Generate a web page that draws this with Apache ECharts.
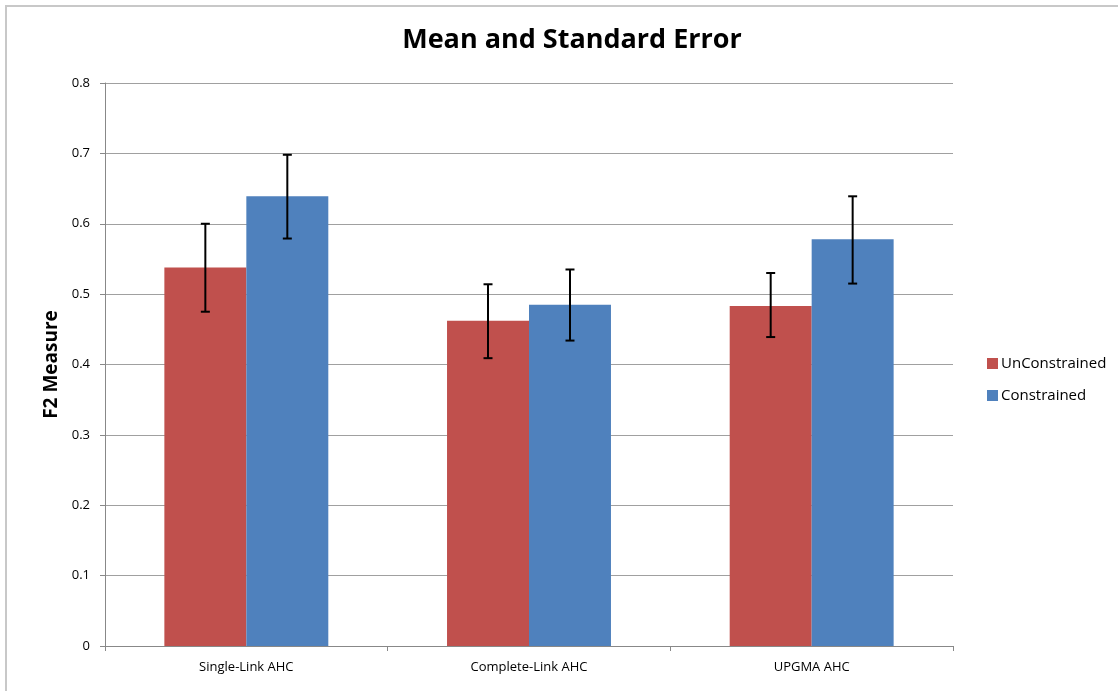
<!DOCTYPE html>
<html>
<head>
<meta charset="utf-8">
<script src="https://cdn.jsdelivr.net/npm/echarts@6/dist/echarts.min.js"></script>
<style>
html,body{margin:0;padding:0;background:#fff;}
#c{width:1118px;height:691px;}
</style>
</head>
<body>
<div id="c"></div>
<script>
const categories = ['Single-Link AHC', 'Complete-Link AHC', 'UPGMA AHC'];
const seriesNames = ['UnConstrained', 'Constrained'];
const unconstrainedMean = [0.538, 0.462, 0.483];
const unconstrainedLow  = [0.475, 0.409, 0.439];
const unconstrainedHigh = [0.600, 0.514, 0.530];
const constrainedMean = [0.639, 0.485, 0.578];
const constrainedLow  = [0.579, 0.434, 0.515];
const constrainedHigh = [0.698, 0.535, 0.639];
const yTicks = [0, 0.1, 0.2, 0.3, 0.4, 0.5, 0.6, 0.7, 0.8];

const colors = ['#C0504D', '#4F81BD'];
const chart = echarts.init(document.getElementById('c'), null, {renderer: 'canvas'});

const barWidthFrac = 0.29;

function errorSeries(idx, low, high) {
  return {
    type: 'custom',
    name: seriesNames[idx] + ' error',
    z: 10,
    silent: true,
    data: categories.map((c, i) => [i, low[i], high[i]]),
    encode: {x: 0, y: [1, 2]},
    renderItem: function (params, api) {
      const i = api.value(0);
      const lo = api.coord([i, api.value(1)]);
      const hi = api.coord([i, api.value(2)]);
      const bw = api.size([1, 0])[0];
      const offset = (idx === 0 ? -0.5 : 0.5) * bw * barWidthFrac;
      const x = lo[0] + offset;
      const cap = 4.5;
      const style = {stroke: '#000', lineWidth: 2};
      return {
        type: 'group',
        children: [
          {type: 'line', shape: {x1: x, y1: hi[1], x2: x, y2: lo[1]}, style: style},
          {type: 'line', shape: {x1: x - cap, y1: hi[1], x2: x + cap, y2: hi[1]}, style: style},
          {type: 'line', shape: {x1: x - cap, y1: lo[1], x2: x + cap, y2: lo[1]}, style: style}
        ]
      };
    }
  };
}

const option = {
  animation: false,
  backgroundColor: '#fff',
  title: {
    text: 'Mean and Standard Error',
    left: 567, top: 22, textAlign: 'center',
    textStyle: {fontFamily: 'Open Sans', fontWeight: 'bold', fontSize: 27, color: '#000'}
  },
  graphic: [{
    type: 'rect', shape: {x: 6, y: 6, width: 1200, height: 800},
    style: {fill: 'none', stroke: '#c8c8c8', lineWidth: 2}, z: -10
  }],
  legend: {
    orient: 'vertical', left: 982, top: 351, itemGap: 17,
    itemWidth: 11, itemHeight: 11, icon: 'rect',
    data: seriesNames,
    textStyle: {fontFamily: 'Open Sans', fontSize: 15, color: '#000', padding: [0, 0, 0, -2]}
  },
  grid: {left: 105, right: 165, top: 83, bottom: 45, containLabel: false},
  xAxis: {
    type: 'category', data: categories,
    axisLine: {lineStyle: {color: '#888', width: 1}},
    axisTick: {show: true, alignWithLabel: false, length: 5, lineStyle: {color: '#888'}},
    axisLabel: {fontFamily: 'Open Sans', fontSize: 13, color: '#000', margin: 15}
  },
  yAxis: {
    type: 'value', min: 0, max: 0.8, interval: 0.1,
    name: 'F2 Measure', nameLocation: 'middle', nameGap: 39,
    nameTextStyle: {fontFamily: 'Open Sans', fontWeight: 'bold', fontSize: 19, color: '#000'},
    axisLine: {show: true, lineStyle: {color: '#888', width: 1}},
    axisTick: {show: true, length: 5, lineStyle: {color: '#888'}},
    axisLabel: {fontFamily: 'Open Sans', fontSize: 13, color: '#000', margin: 15,
      formatter: v => { const t = yTicks.find(x => Math.abs(x - v) < 1e-9); return t === 0 ? '0' : String(t); }},
    splitLine: {lineStyle: {color: '#a0a0a0', width: 1}}
  },
  series: [
    {type: 'bar', name: seriesNames[0], data: unconstrainedMean, barWidth: '29%', barGap: '0%',
     itemStyle: {color: colors[0]}},
    {type: 'bar', name: seriesNames[1], data: constrainedMean, barWidth: '29%', barGap: '0%',
     itemStyle: {color: colors[1]}},
    errorSeries(0, unconstrainedLow, unconstrainedHigh),
    errorSeries(1, constrainedLow, constrainedHigh)
  ],
  color: colors
};
chart.setOption(option);
</script>
</body>
</html>
